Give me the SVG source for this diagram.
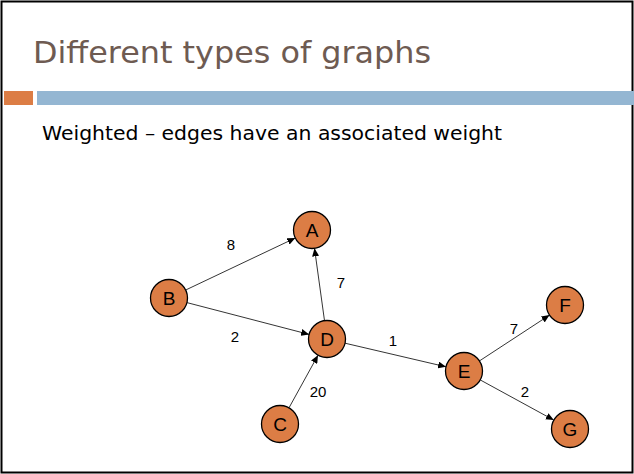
<svg xmlns="http://www.w3.org/2000/svg" width="634" height="474" viewBox="0 0 634 474">
<style>
.node circle{fill:#dc7d45;stroke:#000;stroke-width:1.3}
.node text{font-family:"Liberation Sans",Arial,sans-serif;font-size:19px;fill:#000;text-anchor:middle;dominant-baseline:central}
.edge{stroke:#000;stroke-width:0.8;fill:none;marker-end:url(#arr)}
.lbl{font-family:"Liberation Sans",Arial,sans-serif;font-size:15px;fill:#000;text-anchor:middle}
</style>
<defs>
<marker id="arr" markerUnits="userSpaceOnUse" markerWidth="9" markerHeight="7" refX="8" refY="3.5" orient="auto">
<path d="M0,0 L8,3.5 L0,7 Z" fill="#000"/>
</marker>
</defs>
<rect x="0" y="0" width="634" height="474" fill="#fff"/>
<rect x="1.5" y="1.5" width="631" height="471" fill="none" stroke="#000" stroke-width="2"/>
<text x="33" y="63" font-family="'DejaVu Sans',sans-serif" font-size="30" fill="#6e5b52" textLength="398" lengthAdjust="spacingAndGlyphs">Different types of graphs</text>
<rect x="4" y="91" width="29" height="14" fill="#dc7d45"/>
<rect x="37" y="91" width="597" height="14" fill="#94b6d2"/>
<text x="42" y="140" font-family="'DejaVu Sans',sans-serif" font-size="19.5" fill="#000" textLength="460" lengthAdjust="spacingAndGlyphs">Weighted – edges have an associated weight</text>
<g id="connectors">
<line class="edge" x1="185.7" y1="290" x2="295.3" y2="238"/>
<line class="edge" x1="324.5" y1="320.7" x2="314.5" y2="248.3"/>
<line class="edge" x1="186.9" y1="302.6" x2="309.1" y2="334.4"/>
<line class="edge" x1="289" y1="407.8" x2="318" y2="355.2"/>
<line class="edge" x1="345" y1="343.2" x2="446" y2="366.8"/>
<line class="edge" x1="479.5" y1="360.9" x2="549.5" y2="315.1"/>
<line class="edge" x1="480.2" y1="379.9" x2="553.8" y2="420.1"/>
<text class="lbl" x="231" y="250">8</text>
<text class="lbl" x="341" y="288">7</text>
<text class="lbl" x="235" y="342">2</text>
<text class="lbl" x="393" y="346">1</text>
<text class="lbl" x="318" y="397">20</text>
<text class="lbl" x="514" y="334">7</text>
<text class="lbl" x="525" y="397">2</text>
</g>
<g id="A" class="node"><circle cx="312" cy="230" r="18.5"/><text x="312" y="230">A</text></g>
<g id="B" class="node"><circle cx="169" cy="298" r="18.5"/><text x="169" y="298">B</text></g>
<g id="C" class="node"><circle cx="280" cy="424" r="18.5"/><text x="280" y="424">C</text></g>
<g id="D" class="node"><circle cx="327" cy="339" r="18.5"/><text x="327" y="339">D</text></g>
<g id="E" class="node"><circle cx="464" cy="371" r="18.5"/><text x="464" y="371">E</text></g>
<g id="F" class="node"><circle cx="565" cy="305" r="18.5"/><text x="565" y="305">F</text></g>
<g id="G" class="node"><circle cx="570" cy="429" r="18.5"/><text x="570" y="429">G</text></g>
</svg>
